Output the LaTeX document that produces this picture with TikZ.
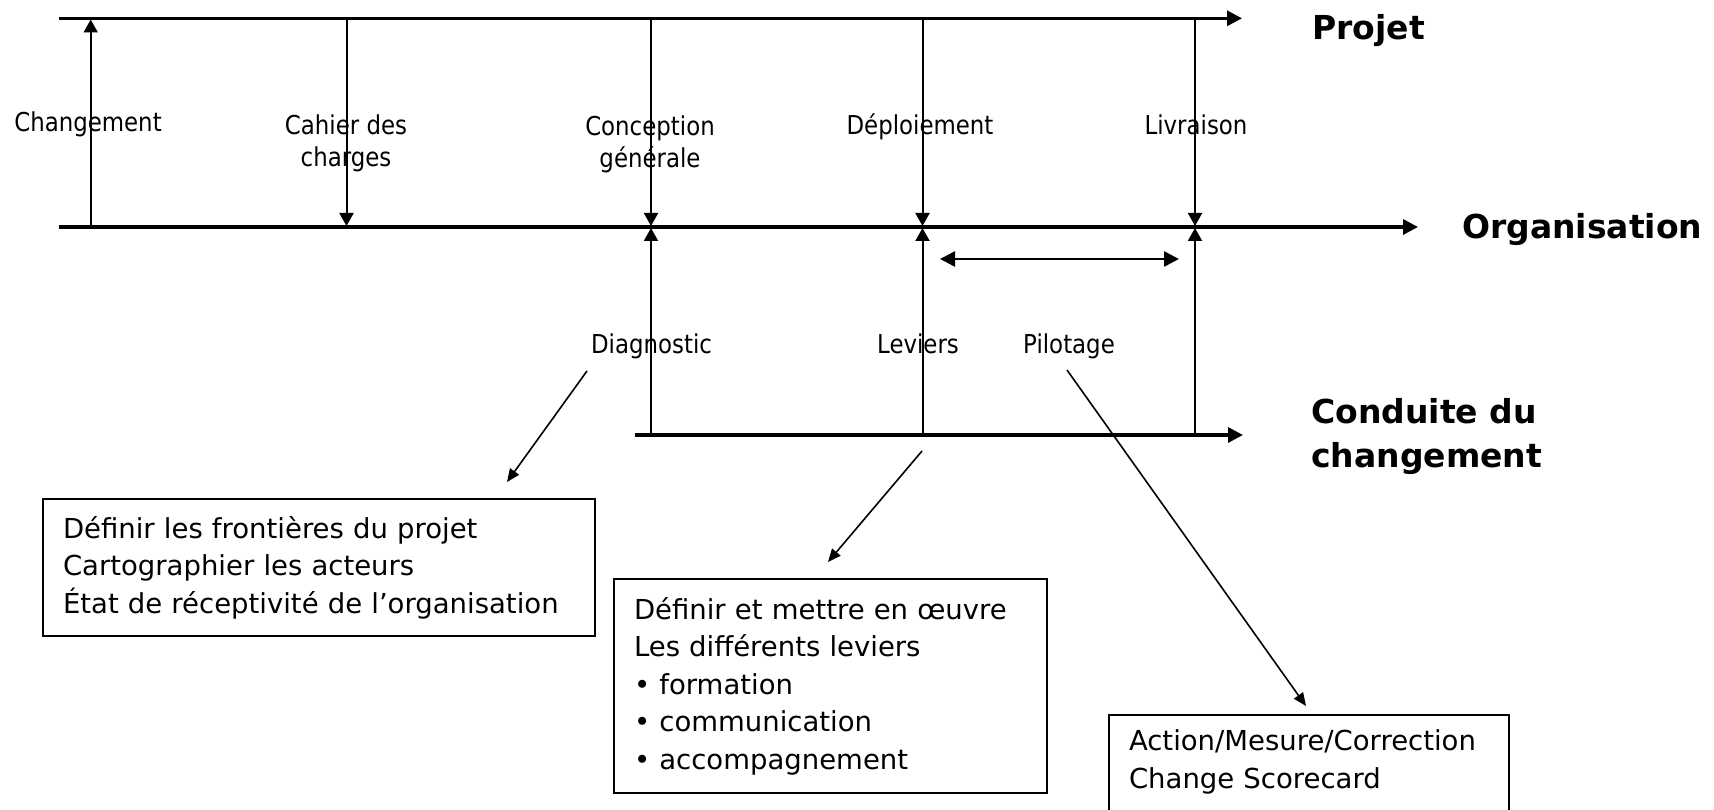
\documentclass[tikz,border=0pt]{standalone}
\usepackage{fontspec}
\setmainfont{DejaVu Sans}
\newfontfamily\lblfont{DejaVu Sans}[FakeStretch=0.88]
\usetikzlibrary{arrows.meta}
\begin{document}
\begin{tikzpicture}[x=1pt,y=-1pt,
  axis/.style={line width=3.2pt,-{Triangle[length=15pt,width=15pt]}},
  vline/.style={line width=2pt,-{Triangle[length=13pt,width=14pt]}},
  dbl/.style={line width=2.6pt,{Triangle[length=15pt,width=15pt]}-{Triangle[length=15pt,width=15pt]}},
  diag/.style={line width=1.6pt,-{Triangle[length=13pt,width=11pt]}},
  lbl/.style={font=\lblfont\fontsize{26}{31.7}\selectfont, align=center, inner sep=0pt},
  ttl/.style={font=\bfseries\fontsize{33}{44}\selectfont, align=left, inner sep=0pt},
  infobox/.style={draw, line width=2pt, anchor=north west, align=left, inner xsep=20pt, inner ysep=0pt,
    font=\fontsize{27.5}{37.5}\selectfont},
]
\useasboundingbox (0,0) rectangle (1714,810);
\clip (0,0) rectangle (1714,810);

% axis end points
\coordinate (P0) at (59,18.3);   \coordinate (P1) at (1242,18.3);
\coordinate (O0) at (59,227);    \coordinate (O1) at (1418,227);
\coordinate (C0) at (635,435);   \coordinate (C1) at (1243,435);

\draw[axis] (P0) -- (P1);
\draw[axis] (O0) -- (O1);
\draw[axis] (C0) -- (C1);

% points on the axes
\coordinate (chgB) at (90.7,227);   \coordinate (chgT) at (90.7,19.5);
\coordinate (cahT) at (346.5,18.3); \coordinate (cahB) at (346.5,226);
\coordinate (conT) at (651,18.3);   \coordinate (conB) at (651,226);
\coordinate (depT) at (922.5,18.3); \coordinate (depB) at (922.5,226);
\coordinate (livT) at (1195,18.3);  \coordinate (livB) at (1195,226);
\coordinate (diaB) at (651,435);    \coordinate (diaT) at (651,228);
\coordinate (levB) at (922.5,435);  \coordinate (levT) at (922.5,228);
\coordinate (pilB) at (1195,435);   \coordinate (pilT) at (1195,228);
\coordinate (dblL) at (940,259);    \coordinate (dblR) at (1179,259);

\draw[vline] (chgB) -- (chgT);
\draw[vline] (cahT) -- (cahB);
\draw[vline] (conT) -- (conB);
\draw[vline] (depT) -- (depB);
\draw[vline] (livT) -- (livB);
\draw[vline] (diaB) -- (diaT);
\draw[vline] (levB) -- (levT);
\draw[vline] (pilB) -- (pilT);
\draw[dbl] (dblL) -- (dblR);

% labels
\node[lbl, anchor=base] (lchg) at (88,132) {Changement};
\node[lbl] (lcah) at (346,143.6) {Cahier des\\charges};
\node[lbl] (lcon) at (650,144) {Conception\\générale};
\node[lbl, anchor=base] (ldep) at (920,135) {Déploiement};
\node[lbl, anchor=base] (lliv) at (1196,135) {Livraison};
\node[lbl, anchor=base] (ldia) at (651.5,354) {Diagnostic};
\node[lbl, anchor=base] (llev) at (918,354) {Leviers};
\node[lbl, anchor=base] (lpil) at (1069,354) {Pilotage};

% titles
\node[ttl, anchor=base west] (tproj) at (1312,39.3) {Projet};
\node[ttl, anchor=base west] (torg) at (1462,239) {Organisation};
\node[ttl, anchor=base west] (tcond) at (1311,467) {Conduite du\\changement};

% boxes
\node[infobox, text width=512pt, minimum height=137pt] (b1) at (42,498)
  {Définir les frontières du projet\\Cartographier les acteurs\\État de réceptivité de l’organisation};
\node[infobox, text width=393pt, minimum height=214pt] (b2) at (613,578)
  {Définir et mettre en œuvre\\Les différents leviers\\• formation\\• communication\\• accompagnement};
\node[infobox, text width=360pt, minimum height=137pt] (b3) at (1108,714)
  {Action/Mesure/Correction\\Change Scorecard\\\strut};

% diagonal arrows
\coordinate (dS) at (587,371);  \coordinate (dE) at (507,482);
\coordinate (lS) at (922,451);  \coordinate (lE) at (828,562);
\coordinate (pS) at (1067,370); \coordinate (pE) at (1306,706);
\draw[diag] (dS) -- (dE);
\draw[diag] (lS) -- (lE);
\draw[diag] (pS) -- (pE);
\end{tikzpicture}
\end{document}
